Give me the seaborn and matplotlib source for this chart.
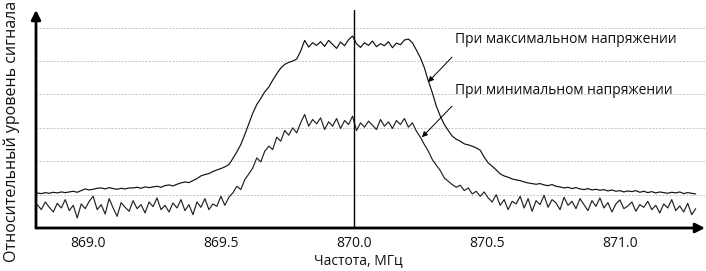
import numpy as np
import pandas as pd
import matplotlib
matplotlib.use("Agg")
import matplotlib.pyplot as plt
import seaborn as sns

# ---- data ----
freq_start, freq_stop = 868.81, 871.285          # MHz, sampling grid of the analyzer trace
tick_values = [869.0, 869.5, 870.0, 870.5, 871.0]
tick_labels = ["869.0", "869.5", "870.0", "870.5", "871.0"]
center_freq = 870.0

level_max_voltage = [
    1.05, 1.03, 1.06, 1.04, 1.07, 1.05, 1.08, 1.06,
    1.08, 1.10, 1.07, 1.12, 1.17, 1.14, 1.16, 1.19,
    1.20, 1.17, 1.21, 1.18, 1.16, 1.19, 1.17, 1.20,
    1.20, 1.22, 1.19, 1.23, 1.21, 1.23, 1.25, 1.22,
    1.27, 1.29, 1.26, 1.31, 1.35, 1.38, 1.36, 1.42,
    1.48, 1.56, 1.60, 1.63, 1.69, 1.74, 1.78, 1.83,
    1.90, 2.08, 2.28, 2.50, 2.80, 3.12, 3.44, 3.70,
    3.88, 4.08, 4.22, 4.43, 4.62, 4.79, 4.90, 4.96,
    5.00, 5.06, 5.30, 5.62, 5.42, 5.55, 5.47, 5.58,
    5.44, 5.62, 5.50, 5.38, 5.57, 5.46, 5.64, 5.75,
    5.52, 5.41, 5.55, 5.47, 5.60, 5.43, 5.52, 5.46,
    5.58, 5.40, 5.54, 5.49, 5.63, 5.66, 5.55, 5.33,
    5.10, 4.80, 4.40, 4.05, 3.65, 3.35, 3.10, 2.92,
    2.75, 2.66, 2.60, 2.52, 2.49, 2.45, 2.40, 2.33,
    2.12, 1.95, 1.85, 1.74, 1.62, 1.56, 1.52, 1.47,
    1.44, 1.42, 1.38, 1.35, 1.33, 1.31, 1.33, 1.29,
    1.27, 1.30, 1.25, 1.23, 1.20, 1.22, 1.18, 1.21,
    1.17, 1.15, 1.18, 1.14, 1.16, 1.13, 1.15, 1.11,
    1.14, 1.10, 1.12, 1.08, 1.11, 1.09, 1.12, 1.07,
    1.10, 1.06, 1.09, 1.05, 1.08, 1.06, 1.04, 1.07,
    1.05, 1.08, 1.03, 1.06, 1.04, 1.02,
]

level_min_voltage = [
    0.70, 0.55, 0.78, 0.62, 0.48, 0.74, 0.60, 0.85,
    0.52, 0.68, 0.30, 0.72, 0.58, 0.80, 0.95, 0.55,
    0.70, 0.42, 0.88, 0.60, 0.35, 0.76, 0.62, 0.50,
    0.82, 0.58, 0.70, 0.45, 0.78, 0.64, 0.90, 0.55,
    0.68, 0.48, 0.75, 0.60, 0.85, 0.52, 0.70, 0.40,
    0.78, 0.62, 0.88, 0.55, 0.72, 0.65, 0.95, 0.68,
    0.92, 1.05, 1.25, 1.15, 1.45, 1.62, 1.80, 2.10,
    1.98, 2.30, 2.45, 2.35, 2.72, 2.60, 2.92, 2.78,
    3.00, 2.85, 3.15, 3.40, 3.05, 3.25, 3.12, 3.30,
    2.95, 3.18, 3.05, 3.28, 2.98, 3.22, 3.10, 3.35,
    2.92, 3.15, 3.02, 3.20, 3.08, 2.95, 3.25, 3.05,
    3.18, 2.98, 3.22, 3.10, 3.28, 3.02, 3.15, 2.90,
    2.72, 2.50, 2.30, 2.05, 1.88, 1.72, 1.50, 1.40,
    1.30, 1.22, 1.28, 1.12, 1.20, 1.02, 1.10, 0.95,
    1.08, 0.90, 0.78, 1.00, 0.68, 0.85, 0.55, 0.80,
    0.72, 0.95, 0.60, 0.88, 0.50, 0.82, 0.70, 0.98,
    0.62, 0.85, 0.75, 0.55, 0.92, 0.68, 0.80, 0.58,
    0.88, 0.70, 0.52, 0.82, 0.65, 0.90, 0.60, 0.76,
    0.48, 0.72, 0.84, 0.58, 0.66, 0.78, 0.50, 0.70,
    0.62, 0.80, 0.55, 0.68, 0.45, 0.72, 0.60, 0.85,
    0.52, 0.66, 0.48, 0.74, 0.40, 0.58,
]

label_max = "При максимальном напряжении"
label_min = "При минимальном напряжении"

freq = np.linspace(freq_start, freq_stop, len(level_max_voltage))
df = pd.DataFrame({
    "freq": np.concatenate([freq, freq]),
    "level": level_max_voltage + level_min_voltage,
    "series": [label_max] * len(freq) + [label_min] * len(freq),
})

# ---- style ----
sns.set_style("white")
plt.rcParams["font.family"] = ["Open Sans", "DejaVu Sans"]

W, H = 706, 271
fig = plt.figure(figsize=(W / 100, H / 100), dpi=100)
ax_left, ax_right, ax_bottom, ax_top = 36, 705, 228, 10
ax = fig.add_axes([ax_left / W, 1 - ax_bottom / H,
                   (ax_right - ax_left) / W, (ax_bottom - ax_top) / H])

sns.lineplot(data=df, x="freq", y="level", hue="series",
             palette={label_max: "#111111", label_min: "#222222"},
             linewidth=0.85, legend=False, ax=ax, estimator=None)

ax.set_xlim(868.805, 871.32)
ax.set_ylim(0, 6.53)

ax.set_yticks([1, 2, 3, 4, 5, 6])
ax.set_yticklabels([])
ax.tick_params(axis="y", length=0)
ax.yaxis.grid(True, color="#c4c4c4", linestyle=(0, (2, 1.5)), linewidth=0.7)
ax.xaxis.grid(False)
ax.set_xticks(tick_values)
ax.set_xticklabels(tick_labels, fontsize=10)
ax.tick_params(axis="x", length=0, pad=6, colors="#111111")

ax.axvline(center_freq, color="black", linewidth=1.0, zorder=3)

for s in ["top", "right", "left", "bottom"]:
    ax.spines[s].set_visible(False)

# axis arrows
ax.annotate("", xy=(0, 1), xytext=(0, 0), xycoords="axes fraction",
            arrowprops=dict(arrowstyle="-|>", color="black", lw=2,
                            mutation_scale=14, shrinkA=0, shrinkB=0),
            annotation_clip=False)
ax.annotate("", xy=(1, 0), xytext=(0, 0), xycoords="axes fraction",
            arrowprops=dict(arrowstyle="-|>", color="black", lw=2,
                            mutation_scale=14, shrinkA=0, shrinkB=0),
            annotation_clip=False)

ax.set_xlabel("")
ax.set_ylabel("")
fig.text(358 / W, 1 - 261 / H, "Частота, МГц", ha="center", va="center",
         fontsize=10, color="#111111")
fig.text(12 / W, 1 - 131 / H, "Относительный уровень сигнала",
         rotation=90, ha="center", va="center", fontsize=11.5, color="#111111")

# annotations
ax.text(870.380, 5.66, label_max, fontsize=10, va="center", ha="left", color="#111111")
ax.text(870.380, 4.13, label_min, fontsize=10, va="center", ha="left", color="#111111")
ax.annotate("", xy=(870.279, 4.37), xytext=(870.369, 5.12),
            arrowprops=dict(arrowstyle="-|>", color="black", lw=0.7,
                            mutation_scale=8, shrinkA=0, shrinkB=0))
ax.annotate("", xy=(870.256, 2.72), xytext=(870.369, 3.65),
            arrowprops=dict(arrowstyle="-|>", color="black", lw=0.7,
                            mutation_scale=8, shrinkA=0, shrinkB=0))

fig.savefig("out.png", dpi=100)
